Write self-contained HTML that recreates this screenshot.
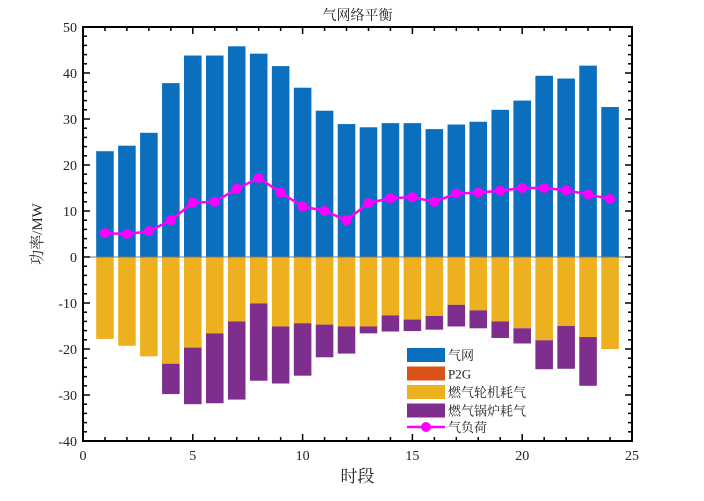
<!DOCTYPE html>
<html><head><meta charset="utf-8"><style>
body{margin:0;background:#fff;width:704px;height:496px;overflow:hidden}
text{font-family:"Liberation Serif","Noto Serif CJK SC",serif;fill:#222}
</style></head><body>
<svg id="chart" width="704" height="496" xmlns="http://www.w3.org/2000/svg"></svg>
<script>
const hours=[1,2,3,4,5,6,7,8,9,10,11,12,13,14,15,16,17,18,19,20,21,22,23,24];
const gridGas=[23,24.2,27,37.8,43.8,43.8,45.8,44.2,41.5,36.8,31.8,28.9,28.2,29.1,29.1,27.8,28.8,29.4,32,34,39.4,38.8,41.6,32.6];
const p2g=[0,0,0,0,0,0,0,0,0,0,0,0,0,0,0,0,0,0,0,0,0,0,0,0];
const turbineGas=[-17.8,-19.3,-21.6,-23.2,-19.7,-16.6,-14,-10.1,-15.1,-14.4,-14.7,-15.1,-15.1,-12.7,-13.6,-12.8,-10.4,-11.6,-14,-15.5,-18.1,-15,-17.4,-20];
const boilerGas=[0,0,0,-6.6,-12.3,-15.2,-17,-16.8,-12.4,-11.4,-7.1,-5.9,-1.5,-3.5,-2.5,-3,-4.7,-3.9,-3.6,-3.3,-6.3,-9.3,-10.6,0];
const gasLoad=[5.2,5,5.6,8,11.8,12,14.8,17.2,14,11,10,8,11.7,12.8,13,12,13.8,14,14.4,15,15,14.5,13.6,12.6];
const xTicks=[0,5,10,15,20,25];
const yTicks=[-40,-30,-20,-10,0,10,20,30,40,50];

const L=83,R=632,T=27,B=441,XMIN=0,XMAX=25,YMIN=-40,YMAX=50;
const sx=v=>L+(v-XMIN)/(XMAX-XMIN)*(R-L);
const sy=v=>B-(v-YMIN)/(YMAX-YMIN)*(B-T);
const svg=document.getElementById('chart');
const NS='http://www.w3.org/2000/svg';
function mk(tag,attrs,parent){const e=document.createElementNS(NS,tag);for(const k in attrs)e.setAttribute(k,attrs[k]);(parent||svg).appendChild(e);return e;}
const bw=0.8*(sx(1)-sx(0));
function bars(vals,base,color,name){
  vals.forEach((v,i)=>{
    const b0=base?base[i]:0;const y1=sy(b0),y2=sy(b0+v);
    const r=mk('rect',{x:sx(hours[i])-bw/2,y:Math.min(y1,y2),width:bw,height:Math.abs(y2-y1),fill:color});
    
    
  });
}
bars(gridGas,null,'#0a6fbf','grid-gas');
bars(p2g,null,'#d95319','p2g');
bars(turbineGas,null,'#edb120','turbine-gas');
bars(boilerGas,turbineGas,'#7e2f8e','boiler-gas');
const zl=mk('line',{x1:L,x2:R,y1:sy(0),y2:sy(0),stroke:'#777','stroke-width':1});


const pl=mk('polyline',{points:gasLoad.map((v,i)=>sx(hours[i])+','+sy(v)).join(' '),fill:'none',stroke:'#ff00ff','stroke-width':2.5});


gasLoad.forEach((v,i)=>{const c=mk('circle',{cx:sx(hours[i]),cy:sy(v),r:5,fill:'#ff00ff'});

});
// frame
const fr=mk('rect',{x:L,y:T,width:R-L,height:B-T,fill:'none',stroke:'#000','stroke-width':2});


// ticks
for(let v=0;v<=25;v++){const x=sx(v),len=v%5==0?7:4;
 mk('line',{x1:x,x2:x,y1:B,y2:B-len,stroke:'#000','stroke-width':1.5});
 mk('line',{x1:x,x2:x,y1:T,y2:T+len,stroke:'#000','stroke-width':1.5});}
for(let v=-40;v<=50;v+=2){const y=sy(v),len=v%10==0?7:4;
 mk('line',{x1:L,x2:L+len,y1:y,y2:y,stroke:'#000','stroke-width':1.5});
 mk('line',{x1:R,x2:R-len,y1:y,y2:y,stroke:'#000','stroke-width':1.5});}
xTicks.forEach(v=>{const t=mk('text',{x:sx(v),y:B+19,'text-anchor':'middle','font-size':14});t.textContent=v;

});
yTicks.forEach(v=>{const t=mk('text',{x:L-6,y:sy(v)+5,'text-anchor':'end','font-size':14});t.textContent=v;

});
const ti=mk('text',{x:(L+R)/2,y:20,'text-anchor':'middle','font-size':14});ti.textContent='气网络平衡';


const xl=mk('text',{x:(L+R)/2,y:482,'text-anchor':'middle','font-size':17});xl.textContent='时段';


const yl=mk('text',{x:0,y:0,'text-anchor':'middle','font-size':15,transform:'translate(42,234) rotate(-90)'});yl.textContent='功率/MW';


// legend
const leg=[['气网','#0a6fbf'],['P2G','#d95319'],['燃气轮机耗气','#edb120'],['燃气锅炉耗气','#7e2f8e']];
leg.forEach((l,i)=>{const y=348+i*18.5;
 const g=mk('g',{});
 mk('rect',{x:407,y:y,width:38,height:14,fill:l[1]},g);
 const t=mk('text',{x:448,y:y+12,'font-size':13},g);t.textContent=l[0];});
const lg=mk('g',{});


mk('line',{x1:407,x2:445,y1:427,y2:427,stroke:'#ff00ff','stroke-width':2.5},lg);
mk('circle',{cx:426,cy:427,r:5,fill:'#ff00ff'},lg);
const lt=mk('text',{x:448,y:432,'font-size':13},lg);lt.textContent='气负荷';
</script>
</body></html>
